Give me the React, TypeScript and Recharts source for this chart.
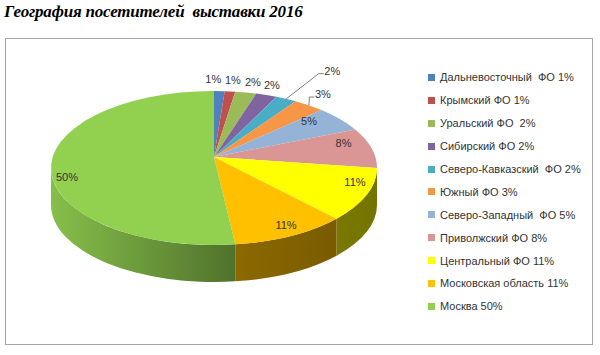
import React from 'react';
import { PieChart, Pie, Cell, Legend } from 'recharts';

// legend labels, as written in the source chart (spacing kept)
const regions = [
  'Дальневосточный  ФО 1%',
  'Крымский ФО 1%',
  'Уральский ФО  2%',
  'Сибирский ФО 2%',
  'Северо-Кавказский  ФО 2%',
  'Южный ФО 3%',
  'Северо-Западный  ФО 5%',
  'Приволжский ФО 8%',
  'Центральный ФО 11%',
  'Московская область 11%',
  'Москва 50%',
];
const shares = [1, 1, 2, 2, 2, 3, 5, 8, 11, 11, 50];

const colors = [
  '#4f81bd', '#c0504d', '#9bbb59', '#8064a2', '#4bacc6', '#f79646',
  '#95b3d7', '#d99694', '#ffff00', '#ffc000', '#92d050',
];

const data = regions.map((name, i) => ({ name, value: shares[i] }));

// 3d look, all relative to the pie radius
const SQUASH = 77 / 163;
const APEX = 11 / 163;
const DEPTH = 37 / 163;

// label placement tweaks: radius factor, nudge x, nudge y
const labelPos: [number, number, number][] = [
  [1.18, -7, 0], [1.18, 0, 0], [1.16, 2, 0], [1.163, -3, 0], [1.488, 11, 0],
  [1.22, -7, 0], [0.754, 0, -7], [0.823, 0, -7], [0.924, 0, -10],
  [0.9375, 0, -6], [0.904, 0, 5.6],
];
const withLeader = [4, 5];

const rad = (a: number) => (a * Math.PI) / 180;

const ept = (cx: number, cy: number, rx: number, ry: number, a: number) => [
  cx + rx * Math.cos(rad(a)),
  cy - ry * Math.sin(rad(a)),
];

const shade = (hex: string, f: number) => {
  const n = parseInt(hex.slice(1), 16);
  const c = [(n >> 16) & 255, (n >> 8) & 255, n & 255].map((v) => Math.round(v * f));
  return `rgb(${c[0]},${c[1]},${c[2]})`;
};

const light = (a: number) => 0.45 + 0.47 * Math.pow(-a / 180, 2);

const Slice3D = (props: any) => {
  const { cx, cy, outerRadius, startAngle, endAngle, fill, index } = props;
  const rx = outerRadius;
  const ry = rx * SQUASH;
  const depth = rx * DEPTH;
  const ay = cy - rx * APEX;
  const [sx, sy] = ept(cx, cy, rx, ry, startAngle);
  const [ex, ey] = ept(cx, cy, rx, ry, endAngle);
  const large = Math.abs(startAngle - endAngle) > 180 ? 1 : 0;
  const top = `M${cx},${ay} L${sx},${sy} A${rx},${ry} 0 ${large} 1 ${ex},${ey} Z`;

  // front wall only where the rim faces the viewer
  const a1 = Math.min(startAngle, 0);
  const a2 = Math.max(endAngle, -180);
  let wall = null;
  if (a1 > a2) {
    const [x1, y1] = ept(cx, cy, rx, ry, a1);
    const [x2, y2] = ept(cx, cy, rx, ry, a2);
    const d = `M${x1},${y1} A${rx},${ry} 0 0 1 ${x2},${y2} L${x2},${y2 + depth} A${rx},${ry} 0 0 0 ${x1},${y1 + depth} Z`;
    const id = `wall-${index}`;
    wall = (
      <g>
        <defs>
          <linearGradient id={id} gradientUnits="userSpaceOnUse" x1={x2} y1={0} x2={x1} y2={0}>
            <stop offset="0%" stopColor={shade(fill, light(a2))} />
            <stop offset="100%" stopColor={shade(fill, light(a1))} />
          </linearGradient>
        </defs>
        <path d={d} fill={`url(#${id})`} />
      </g>
    );
  }
  return (
    <g>
      {wall}
      <path d={top} fill={fill} />
    </g>
  );
};

const renderLabel = (props: any) => {
  const { cx, cy, outerRadius, midAngle, index, value } = props;
  const rx = outerRadius;
  const ry = rx * SQUASH;
  const ay = cy - rx * APEX;
  const [r, dx, dy] = labelPos[index];
  const [ex, ey] = ept(cx, cy, rx, ry, midAngle);
  const x = cx + r * (ex - cx) + dx;
  const y = ay + r * (ey - ay) + dy;
  const text = `${value}%`;
  return (
    <g key={`lbl-${index}`}>
      {withLeader.includes(index) && (
        <polyline
          points={`${ex},${ey} ${x - 13.5},${y + 3} ${x - 8.5},${y + 3}`}
          fill="none"
          stroke="#7f7f7f"
          strokeWidth={1}
        />
      )}
      <text
        x={x}
        y={y}
        textAnchor="middle"
        dominantBaseline="central"
        fontFamily="Liberation Sans, Arial, sans-serif"
        fontSize={11}
        fill="#333"
      >
        {text}
      </text>
    </g>
  );
};

const renderLegend = () => (
  <div>
    {regions.map((name, i) => (
      <div key={name} style={{ display: 'flex', alignItems: 'center', height: 22.9 }}>
        <span style={{ width: 7, height: 7, background: colors[i], marginRight: 5, flexShrink: 0 }} />
        <span style={{ whiteSpace: 'pre', color: '#333' }}>{name}</span>
      </div>
    ))}
  </div>
);

export default function App() {
  return (
    <div style={{ position: 'absolute', left: 0, top: 0, width: 600, height: 355, background: '#fff' }}>
      <div
        style={{
          position: 'absolute',
          left: 4,
          top: 2,
          fontFamily: 'Liberation Serif, Times New Roman, serif',
          fontWeight: 'bold',
          fontStyle: 'italic',
          fontSize: 17,
          letterSpacing: -0.2,
          color: '#000',
          whiteSpace: 'pre',
        }}
      >
        География посетителей  выставки 2016
      </div>
      <div
        style={{
          position: 'absolute',
          left: 5,
          top: 38,
          width: 586,
          height: 305,
          border: '1px solid #a6a6a6',
        }}
      />
      <div style={{ position: 'absolute', left: 0, top: 0 }}>
        <PieChart width={600} height={355} margin={{ top: 0, right: 0, bottom: 0, left: 0 }}>
          <Pie
            data={data}
            dataKey="value"
            nameKey="name"
            cx={214}
            cy={168}
            outerRadius={163}
            startAngle={90}
            endAngle={-270}
            stroke="none"
            labelLine={false}
            label={renderLabel}
            shape={Slice3D}
            inactiveShape={Slice3D}
            isAnimationActive={false}
          >
            {data.map((d, i) => (
              <Cell key={d.name} fill={colors[i]} />
            ))}
          </Pie>
          <Legend
            layout="vertical"
            align="right"
            verticalAlign="top"
            content={renderLegend}
            wrapperStyle={{
              left: 428,
              top: 66,
              width: 170,
              fontFamily: 'Liberation Sans, Arial, sans-serif',
              fontSize: 11,
            }}
          />
        </PieChart>
      </div>
    </div>
  );
}
